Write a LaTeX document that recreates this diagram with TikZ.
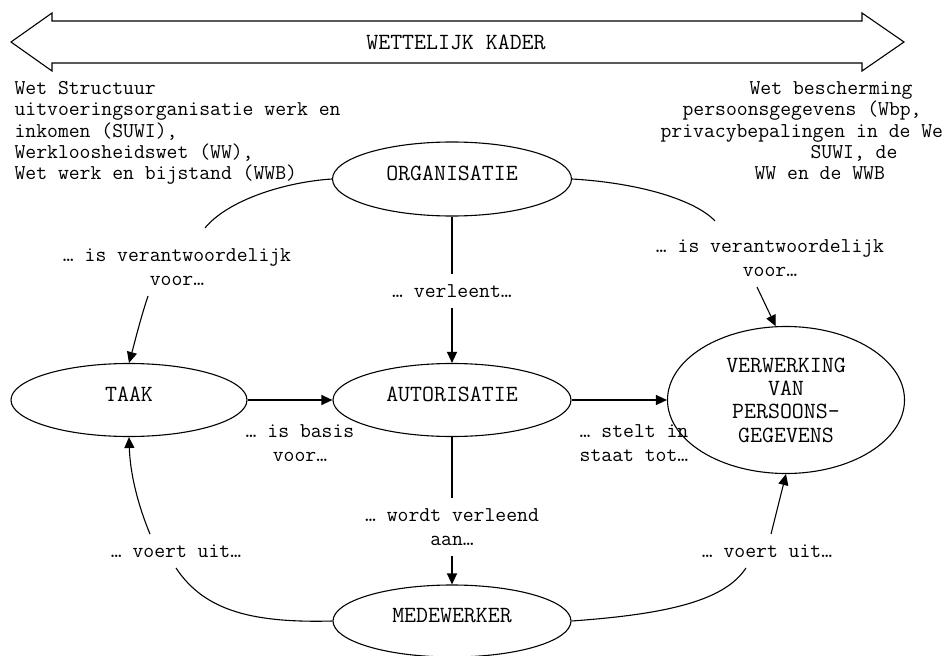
\documentclass[tikz,border=0pt]{standalone}
\usepackage{fontspec}
\usetikzlibrary{shapes.geometric,arrows.meta}

\newcommand{\ovalfont}{\ttfamily\fontsize{23.2pt}{23.3pt}\selectfont}
\newcommand{\notefont}{\ttfamily\fontsize{21.1pt}{21.3pt}\selectfont}
\newcommand{\relfont}{\ttfamily\fontsize{21.1pt}{24pt}\selectfont}

\begin{document}
\begin{tikzpicture}[x=1pt, y=-1pt, line width=1.1pt,
	oval/.style={draw, ellipse, inner sep=0pt, font=\ovalfont},
	word/.style={text height=11pt, text depth=9pt},
	rel/.style={font=\relfont, align=center, inner xsep=2pt, inner ysep=10pt},
	note/.style={font=\notefont, align=left, inner sep=0pt, anchor=north west},
	arr/.style={-{Triangle[length=11pt, width=10pt]}}]
	\useasboundingbox (0,0) rectangle (949,655);
	\draw (11,42) -- (52,13) -- (52,21) -- (862,21) -- (862,13) -- (904,42) -- (862,71) -- (862,63) -- (52,63) -- (52,71) -- cycle;
	\node[font=\ovalfont] (kader) at (456,42) {WETTELIJK KADER};
	\node[note] (wetl) at (14,81) {Wet Structuur\\uitvoeringsorganisatie werk en\\inkomen (SUWI),\\Werkloosheidswet (WW),\\Wet werk en bijstand (WWB)};
	\node[note] (wetr) at (660,81) {\hspace*{89pt}Wet bescherming\\\hspace*{22pt}persoonsgegevens (Wbp,\\privacybepalingen in de We\\\hspace*{150pt}SUWI, de\\\hspace*{94pt}WW en de WWB};
	\node[oval, word, minimum width=239pt, minimum height=74pt] (org) at (452,179) {ORGANISATIE};
	\node[oval, word, minimum width=236pt, minimum height=73pt] (taak) at (129,400) {TAAK};
	\node[oval, word, minimum width=238pt, minimum height=73pt] (aut) at (452,400) {AUTORISATIE};
	\node[oval, align=center, minimum width=237pt, minimum height=147pt] (verw) at (786,400) {VERWERKING\\VAN\\PERSOONS-\\GEGEVENS};
	\node[oval, word, minimum width=238pt, minimum height=72pt] (med) at (452,621) {MEDEWERKER};
	\node[rel] (vvl) at (177,267) {… is verantwoordelijk\\voor…};
	\node[rel] (vvr) at (770,258) {… is verantwoordelijk\\voor…};
	\node[rel] (vl) at (452,291) {… verleent…};
	\node[rel] (ib) at (300,443) {… is basis\\voor…};
	\node[rel] (st) at (634,443) {… stelt in\\staat tot…};
	\node[rel] (wv) at (452,527) {… wordt verleend\\aan…};
	\node[rel] (vul) at (176,551) {… voert uit…};
	\node[rel] (vur) at (767,551) {… voert uit…};
	\draw (org.west) .. controls (285,182) and (228,200) .. ([xshift=28pt,yshift=10pt]vvl.north);
	\draw[arr] ([xshift=-29pt]vvl.south) .. controls (140,320) and (134,345) .. (taak.north);
	\draw (org.east) .. controls (640,183) and (695,200) .. ([xshift=-55pt,yshift=8pt]vvr.north);
	\draw[arr] ([xshift=-13pt]vvr.south) -- (verw.98);
	\draw (org.south) -- (vl.north);
	\draw[arr] (vl.south) -- (aut.north);
	\draw[arr] (taak.east) -- (aut.west);
	\draw[arr] (aut.east) -- (verw.west);
	\draw (aut.south) -- (wv.north);
	\draw[arr] (wv.south) -- (med.north);
	\draw (med.west) .. controls (255,623) and (205,612) .. (vul.south);
	\draw[arr] ([xshift=-26pt]vul.north) .. controls (136,500) and (130,470) .. (taak.south);
	\draw (med.east) .. controls (670,614) and (725,600) .. ([xshift=-21pt]vur.south);
	\draw[arr] ([xshift=4pt]vur.north) -- (verw.south);
\end{tikzpicture}
\end{document}
